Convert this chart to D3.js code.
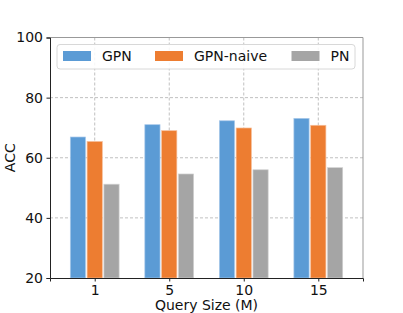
<!DOCTYPE html>
<html>
<head>
<meta charset="utf-8">
<script src="https://cdn.jsdelivr.net/npm/d3@7"></script>
<style>
body{margin:0;background:#fff}
text{font-family:"DejaVu Sans",sans-serif}
</style>
</head>
<body>
<script>
const categories=['1','5','10','15']
const seriesNames=['GPN','GPN-naive','PN']
const gpn=[66.9, 71.0, 72.3, 73.1]
const gpnNaive=[65.4, 69.0, 69.9, 70.8]
const pn=[51.2, 54.6, 56.0, 56.7]
const yTicks=[20, 40, 60, 80, 100]
const colors=['#5b9bd5','#ed7d31','#a5a5a5']
const edges=['#a9c9ea','#f6bd98','#d0d0d0']
const series=[gpn,gpnNaive,pn]

const width=403
const height=313
const padLeft=50, padRight=363, padTop=37.5, padBottom=278

const svg=d3.select('body').append('svg').attr('width',width).attr('height',height)

const xScale=d3.scalePoint().domain(categories).range([padLeft,padRight]).padding(0.6)
const yScale=d3.scaleLinear().domain([20,100]).range([padBottom,padTop])

// grid
svg.append('g').selectAll('line').data(yTicks.slice(1,-1)).enter().append('line')
   .attr('x1',padLeft).attr('x2',padRight)
   .attr('y1',d=>yScale(d)).attr('y2',d=>yScale(d))
   .attr('stroke','#b0b0b0').attr('stroke-dasharray','3,2').attr('stroke-width',0.8)
svg.append('g').selectAll('line').data(categories).enter().append('line')
   .attr('x1',d=>xScale(d)).attr('x2',d=>xScale(d))
   .attr('y1',padTop).attr('y2',padBottom)
   .attr('stroke','#b0b0b0').attr('stroke-dasharray','3,2').attr('stroke-width',0.8)

// bars
const slot=16.8, barW=15.2
series.forEach((vals,s)=>{
  svg.append('g').selectAll('rect').data(vals).enter().append('rect')
   .attr('x',(d,i)=>xScale(categories[i])+(s-1)*slot-barW/2)
   .attr('y',d=>yScale(d))
   .attr('width',barW)
   .attr('height',d=>padBottom-yScale(d))
   .attr('fill',colors[s])
   .attr('stroke',edges[s]).attr('stroke-width',0.7)
})

// frame
svg.append('line').attr('x1',padLeft).attr('x2',padRight).attr('y1',padTop).attr('y2',padTop).attr('stroke','#999').attr('stroke-width',1)
svg.append('line').attr('x1',padRight).attr('x2',padRight).attr('y1',padTop).attr('y2',padBottom).attr('stroke','#999').attr('stroke-width',1)

const xAxis=d3.axisBottom(xScale).tickSize(3.5).tickPadding(3.5)
const yAxis=d3.axisLeft(yScale).tickValues(yTicks).tickSize(3.5).tickPadding(3.5)
const gx=svg.append('g').attr('transform',`translate(0,${padBottom})`).call(xAxis)
const gy=svg.append('g').attr('transform',`translate(${padLeft},0)`).call(yAxis)
;[gx,gy].forEach(g=>{
  g.select('.domain').attr('stroke','#222').attr('stroke-width',1)
  g.selectAll('.tick line').attr('stroke','#222')
  g.selectAll('.tick text').attr('fill','#111').style('font-size','14px').style('font-family','DejaVu Sans')
})

svg.append('text').attr('x',(padLeft+padRight)/2).attr('y',309.5).attr('text-anchor','middle')
   .style('font-size','14px').attr('fill','#111').text('Query Size (M)')
svg.append('text').attr('transform',`translate(15,${(padTop+padBottom)/2}) rotate(-90)`).attr('text-anchor','middle')
   .style('font-size','14px').attr('fill','#111').text('ACC')

// legend
const lg=svg.append('g')
lg.append('rect').attr('x',57).attr('y',44.5).attr('width',298).attr('height',24.5)
  .attr('rx',3).attr('fill','#fff').attr('fill-opacity',0.85).attr('stroke','#d8d8d8')
const legX=[63,155,291.5]
seriesNames.forEach((n,i)=>{
  lg.append('rect').attr('x',legX[i]).attr('y',51).attr('width',28).attr('height',10).attr('fill',colors[i])
  lg.append('text').attr('x',legX[i]+39).attr('y',61).style('font-size','14px').attr('fill','#111').text(n)
})
</script>
</body>
</html>
